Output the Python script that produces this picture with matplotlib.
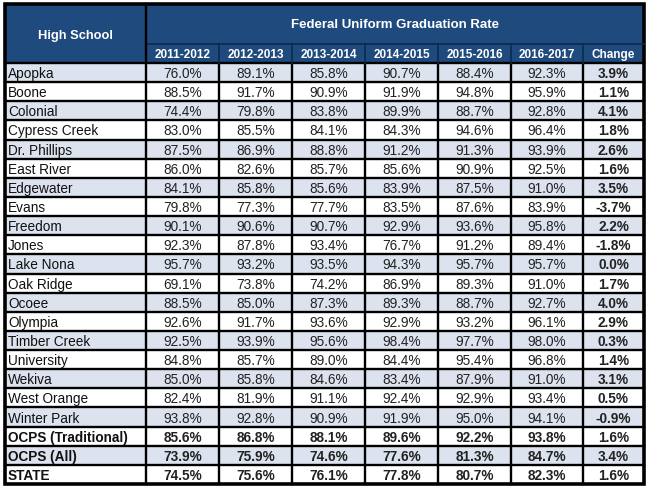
import matplotlib
matplotlib.use("Agg")
import matplotlib.pyplot as plt
from matplotlib.patches import Rectangle

plt.rcParams['font.family'] = ['Liberation Sans', 'DejaVu Sans']

schools = ['Apopka', 'Boone', 'Colonial', 'Cypress Creek', 'Dr. Phillips', 'East River',
           'Edgewater', 'Evans', 'Freedom', 'Jones', 'Lake Nona', 'Oak Ridge', 'Ocoee',
           'Olympia', 'Timber Creek', 'University', 'Wekiva', 'West Orange', 'Winter Park',
           'OCPS (Traditional)', 'OCPS (All)', 'STATE']
years = ['2011-2012', '2012-2013', '2013-2014', '2014-2015', '2015-2016', '2016-2017']

rate_2012 = [76.0, 88.5, 74.4, 83.0, 87.5, 86.0, 84.1, 79.8, 90.1, 92.3, 95.7, 69.1, 88.5,
             92.6, 92.5, 84.8, 85.0, 82.4, 93.8, 85.6, 73.9, 74.5]
rate_2013 = [89.1, 91.7, 79.8, 85.5, 86.9, 82.6, 85.8, 77.3, 90.6, 87.8, 93.2, 73.8, 85.0,
             91.7, 93.9, 85.7, 85.8, 81.9, 92.8, 86.8, 75.9, 75.6]
rate_2014 = [85.8, 90.9, 83.8, 84.1, 88.8, 85.7, 85.6, 77.7, 90.7, 93.4, 93.5, 74.2, 87.3,
             93.6, 95.6, 89.0, 84.6, 91.1, 90.9, 88.1, 74.6, 76.1]
rate_2015 = [90.7, 91.9, 89.9, 84.3, 91.2, 85.6, 83.9, 83.5, 92.9, 76.7, 94.3, 86.9, 89.3,
             92.9, 98.4, 84.4, 83.4, 92.4, 91.9, 89.6, 77.6, 77.8]
rate_2016 = [88.4, 94.8, 88.7, 94.6, 91.3, 90.9, 87.5, 87.6, 93.6, 91.2, 95.7, 89.3, 88.7,
             93.2, 97.7, 95.4, 87.9, 92.9, 95.0, 92.2, 81.3, 80.7]
rate_2017 = [92.3, 95.9, 92.8, 96.4, 93.9, 92.5, 91.0, 83.9, 95.8, 89.4, 95.7, 91.0, 92.7,
             96.1, 98.0, 96.8, 91.0, 93.4, 94.1, 93.8, 84.7, 82.3]
change = [3.9, 1.1, 4.1, 1.8, 2.6, 1.6, 3.5, -3.7, 2.2, -1.8, 0.0, 1.7, 4.0, 2.9, 0.3, 1.4,
          3.1, 0.5, -0.9, 1.6, 3.4, 1.6]
n_bold_rows = 3  # OCPS (Traditional), OCPS (All), STATE

NAVY = '#1f4a7d'
SHADE = '#dce3ef'

# layout in pixels
col_edges = [5, 146, 219, 292, 365, 438, 511, 583, 644]
top, head1, head2, bottom = 5, 45, 64, 485
n = len(schools)
row_h = (bottom - head2) / n

fig = plt.figure(figsize=(6.5, 4.89), dpi=100)
ax = fig.add_axes([0, 0, 1, 1])
ax.set_xlim(0, 650)
ax.set_ylim(489, 0)
ax.axis('off')
fig.patch.set_facecolor('white')

# header background
ax.add_patch(Rectangle((col_edges[0], top), col_edges[-1] - col_edges[0], head2 - top,
                       facecolor=NAVY, edgecolor='none'))
ax.text((col_edges[0] + col_edges[1]) / 2, (top + head2) / 2 + 1, 'High School',
        color='white', fontsize=9.3, fontweight='bold', ha='center', va='center')
ax.text((col_edges[1] + col_edges[-1]) / 2, (top + head1) / 2, 'Federal Uniform Graduation Rate',
        color='white', fontsize=9.5, fontweight='bold', ha='center', va='center')
for i, lab in enumerate(years + ['Change']):
    ax.text((col_edges[i + 1] + col_edges[i + 2]) / 2, (head1 + head2) / 2 + 0.5, lab,
            color='white', fontsize=8.5, fontweight='bold', ha='center', va='center')

columns = [rate_2012, rate_2013, rate_2014, rate_2015, rate_2016, rate_2017]
for r in range(n):
    y0 = head2 + r * row_h
    if r % 2 == 0:
        ax.add_patch(Rectangle((col_edges[0], y0), col_edges[-1] - col_edges[0], row_h,
                               facecolor=SHADE, edgecolor='none'))
    yc = y0 + row_h / 2 + 0.5
    bold = r >= n - n_bold_rows
    w = 'bold' if bold else 'normal'
    ax.text(col_edges[0] + 3, yc, schools[r], fontsize=9.8, fontweight=w,
            ha='left', va='center', color='#111111')
    for c, vals in enumerate(columns):
        ax.text((col_edges[c + 1] + col_edges[c + 2]) / 2, yc, f'{vals[r]:.1f}%',
                fontsize=9.8, fontweight=w, ha='center', va='center', color='#222222')
    ax.text((col_edges[7] + col_edges[8]) / 2, yc, f'{change[r]:.1f}%',
            fontsize=9.8, fontweight='bold', ha='center', va='center', color='#222222')

# grid lines
lw = 1.7
for r in range(1, n):
    y = head2 + r * row_h
    ax.plot([col_edges[0], col_edges[-1]], [y, y], color='black', lw=lw)
ax.plot([col_edges[0], col_edges[-1]], [head2, head2], color='black', lw=lw)
ax.plot([col_edges[1], col_edges[-1]], [head1, head1], color='#0d2a4d', lw=1.2)
ax.plot([col_edges[1], col_edges[1]], [top, bottom], color='black', lw=lw)
for x in col_edges[2:-1]:
    ax.plot([x, x], [head2, bottom], color='black', lw=lw)
    ax.plot([x, x], [head1, head2], color='#0d2a4d', lw=1.2)

# outer border
ax.add_patch(Rectangle((col_edges[0], top), col_edges[-1] - col_edges[0], bottom - top,
                       facecolor='none', edgecolor='black', lw=2.6))

fig.savefig('out.png', dpi=100)
